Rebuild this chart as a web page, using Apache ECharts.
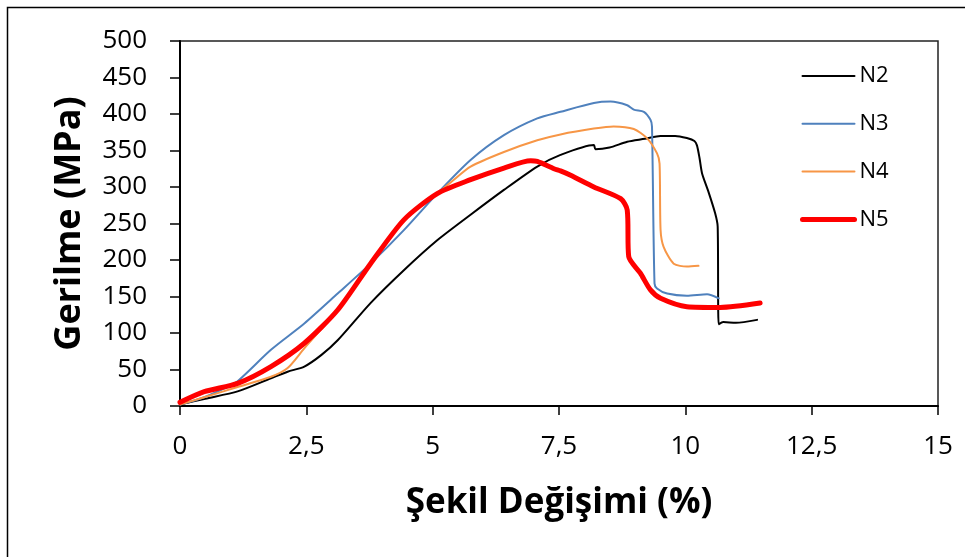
<!DOCTYPE html>
<html>
<head>
<meta charset="utf-8">
<script src="https://cdn.jsdelivr.net/npm/echarts@6/dist/echarts.min.js"></script>
<style>
  html, body { margin: 0; padding: 0; background: #fff; }
  #main { width: 965px; height: 557px; }
</style>
</head>
<body>
<div id="main"></div>
<script>
// strain (%) / stress (MPa)
var n2Strain = [0, 0.5, 1.14, 1.8, 2.13, 2.46, 2.8, 3.12, 3.77, 4.43, 5.09, 5.75, 6.41, 7.07, 7.53, 8.19, 8.22, 8.5, 8.85, 9.2, 9.51, 9.8, 10.03, 10.18, 10.23, 10.28, 10.33, 10.45, 10.59, 10.64, 10.66, 10.75, 11.0, 11.42];
var n2Stress = [2, 10, 20, 38, 47, 54, 70, 90, 141, 186, 227, 262, 296, 328, 344, 357.5, 351.6, 354, 362, 366, 370, 370, 367, 363, 357, 340, 319, 295, 264, 246, 112, 115, 114, 118];

var n3Strain = [0, 0.48, 0.9, 1.14, 1.8, 2.46, 3.12, 3.77, 4.43, 5.09, 5.75, 6.41, 7.07, 7.53, 8.19, 8.52, 8.85, 8.98, 9.18, 9.31, 9.34, 9.39, 9.44, 9.64, 10.03, 10.43, 10.66];
var n3Stress = [2, 12, 25, 34, 77, 113, 154, 195, 241, 291, 337, 371, 394, 403, 415, 417, 412, 406, 403, 392, 383, 168, 161, 154, 151, 153, 147.5];

var n4Strain = [0, 0.48, 1.14, 1.8, 2.13, 2.46, 3.12, 3.77, 4.43, 5.09, 5.42, 5.75, 6.41, 7.07, 7.53, 8.19, 8.58, 8.98, 9.24, 9.44, 9.49, 9.51, 9.57, 9.77, 10.03, 10.26];
var n4Stress = [2, 12, 26, 40, 52, 79, 131.5, 195, 255, 291, 310, 328, 348, 364, 372, 380, 383, 379.5, 367, 346, 332, 241, 218, 195, 191, 192];

var n5Strain = [0, 0.48, 1.14, 1.8, 2.46, 3.12, 3.77, 4.43, 5.09, 5.75, 6.41, 6.94, 7.07, 7.4, 7.53, 7.73, 8.19, 8.72, 8.85, 8.88, 9.11, 9.31, 9.51, 10.03, 10.69, 11.48];
var n5Stress = [5, 19.6, 31, 54, 86, 131.5, 195, 255, 291, 310, 326, 336, 335, 325, 322, 316, 300, 284, 268.5, 204.5, 182, 159, 147.5, 136, 135, 141];

var seriesNames = ['N2', 'N3', 'N4', 'N5'];
var seriesColors = ['#000000', '#4f81bd', '#f79646', '#ff0000'];
var seriesWidths = [2, 2, 2, 5];
var strains = [n2Strain, n3Strain, n4Strain, n5Strain];
var stresses = [n2Stress, n3Stress, n4Stress, n5Stress];

function pairs(xs, ys) {
  var out = [];
  for (var i = 0; i < xs.length; i++) {
    out.push([xs[i], ys[i]]);
  }
  return out;
}

var chart = echarts.init(document.getElementById('main'));

var series = [];
var legendData = [];
for (var k = 0; k < seriesNames.length; k++) {
  series.push({
    name: seriesNames[k],
    type: 'line',
    symbol: 'none',
    smooth: 0.25,
    data: pairs(strains[k], stresses[k]),
    lineStyle: {
      color: seriesColors[k],
      width: seriesWidths[k],
      cap: 'round',
      join: 'round'
    },
    itemStyle: { color: seriesColors[k] }
  });
  legendData.push({
    name: seriesNames[k],
    lineStyle: { color: seriesColors[k], width: seriesWidths[k], cap: 'round' }
  });
}

var font = 'Open Sans';

var option = {
  animation: false,
  backgroundColor: '#fff',
  graphic: [{
    type: 'rect',
    shape: { x: 7.5, y: 7.5, width: 965, height: 565 },
    style: { fill: 'none', stroke: '#000', lineWidth: 1.5 },
    silent: true
  }],
  grid: {
    left: 180,
    top: 41,
    right: 27,
    bottom: 151,
    show: true,
    borderColor: '#222',
    borderWidth: 1.5
  },
  legend: {
    orient: 'vertical',
    left: 795,
    top: 60,
    itemWidth: 52,
    itemHeight: 14,
    itemGap: 25.8,
    itemStyle: { opacity: 0 },
    textStyle: { fontFamily: font, fontSize: 22, color: '#000' },
    data: legendData
  },
  xAxis: {
    type: 'value',
    min: 0,
    max: 15,
    interval: 2.5,
    name: 'Şekil Değişimi (%)',
    nameLocation: 'middle',
    nameGap: 80,
    nameTextStyle: { fontFamily: font, fontSize: 35, fontWeight: 'bold', color: '#000' },
    axisLine: { lineStyle: { color: '#000', width: 2 } },
    axisTick: { show: true, inside: false, length: 9, lineStyle: { color: '#000', width: 1.5 } },
    axisLabel: {
      margin: 28,
      fontFamily: font,
      fontSize: 26,
      color: '#000',
      formatter: function (v) { return String(v).replace('.', ','); }
    },
    splitLine: { show: false }
  },
  yAxis: {
    type: 'value',
    min: 0,
    max: 500,
    interval: 50,
    name: 'Gerilme (MPa)',
    nameLocation: 'middle',
    nameGap: 92,
    nameTextStyle: { fontFamily: font, fontSize: 36, fontWeight: 'bold', color: '#000' },
    axisLine: { show: true, lineStyle: { color: '#000', width: 2 } },
    axisTick: { show: true, inside: false, length: 10, lineStyle: { color: '#000', width: 1.5 } },
    axisLabel: {
      margin: 33,
      fontFamily: font,
      fontSize: 26,
      color: '#000'
    },
    splitLine: { show: false }
  },
  series: series
};

chart.setOption(option);
</script>
</body>
</html>
